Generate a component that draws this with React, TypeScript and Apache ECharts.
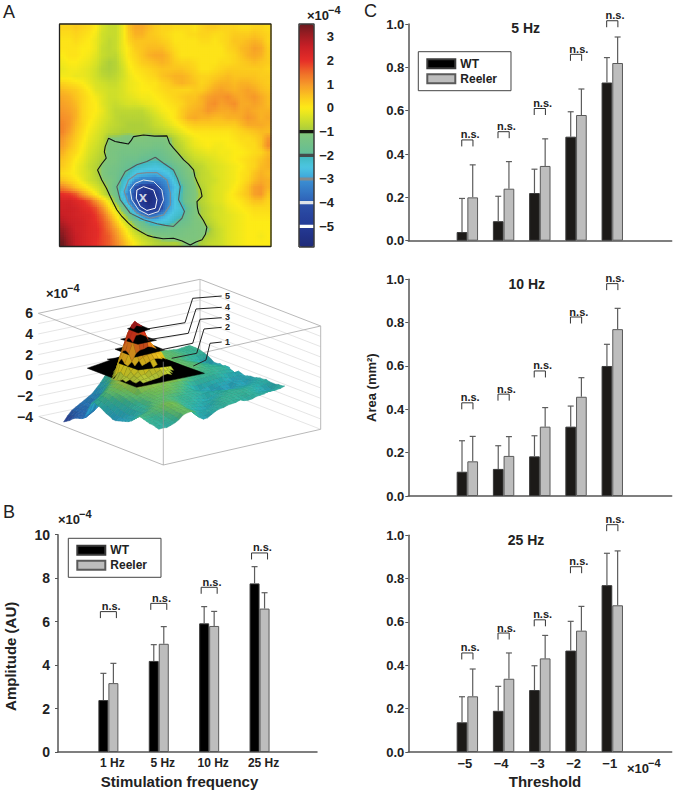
import React, { useEffect, useRef } from "react";
import * as echarts from "echarts";

const FONT = '"Liberation Sans", Arial, sans-serif';

// Panel A: map values (x10^-4), rows top to bottom, columns left to right
const heatRows: number[][] = [
  [.3,.3,.4,.3,.2,.0,-.4,-.6,-.6,-.2,.5,.8,.8,.6,.4,.3,.3,.2,.2,.2,.1,.3,.4,.4,.3,.3,.3,.2,.2,.3,.3,.2],
  [.2,.2,.3,.2,.1,-.1,-.5,-.6,-.6,-.2,.4,.7,.7,.5,.4,.3,.2,.1,.1,.2,.2,.3,.3,.2,.2,.3,.4,.4,.4,.5,.4,.3],
  [.1,.1,.2,.1,.0,-.2,-.5,-.7,-.6,-.2,.3,.5,.5,.5,.5,.4,.3,.1,.1,.1,.1,.2,.2,.1,.2,.3,.5,.5,.6,.7,.6,.3],
  [.1,.1,.1,.0,.0,-.2,-.6,-.7,-.6,-.2,.1,.4,.5,.6,.6,.6,.4,.2,.1,.1,.1,.1,.1,.1,.1,.3,.4,.6,.7,.9,.8,.4],
  [.0,.1,.1,.0,-.1,-.3,-.6,-.7,-.7,-.3,.1,.3,.5,.7,.8,.8,.6,.3,.1,.1,.1,.1,.1,.1,.1,.2,.3,.5,.7,.8,.7,.4],
  [-.1,.0,.0,-.1,-.2,-.4,-.7,-.9,-.8,-.4,.0,.2,.4,.5,.6,.7,.6,.4,.3,.3,.2,.1,.1,.1,.2,.2,.3,.4,.5,.6,.5,.4],
  [-.2,-.1,-.1,-.2,-.3,-.5,-.8,-.9,-.8,-.5,-.1,.1,.2,.3,.4,.5,.5,.5,.5,.4,.3,.1,.1,.2,.3,.4,.4,.4,.4,.4,.4,.3],
  [-.1,-.1,-.2,-.2,-.3,-.5,-.7,-.8,-.7,-.5,-.2,.0,.1,.2,.3,.5,.6,.7,.7,.6,.4,.3,.3,.4,.5,.6,.5,.5,.5,.5,.4,.4],
  [.3,.2,.1,.0,-.2,-.4,-.5,-.6,-.6,-.4,-.2,-.1,.0,.1,.1,.3,.4,.6,.7,.6,.5,.3,.4,.6,.7,.7,.6,.7,.7,.6,.5,.4],
  [.6,.5,.4,.2,.0,-.3,-.4,-.5,-.5,-.4,-.2,-.1,.0,.0,.1,.2,.3,.3,.3,.3,.4,.4,.6,.8,.9,.8,.7,.8,.9,.8,.6,.5],
  [.8,.7,.5,.3,.1,-.1,-.3,-.5,-.5,-.4,-.3,-.2,-.1,-.1,.0,.1,.2,.3,.4,.5,.5,.7,.9,1.0,1.0,1.1,.9,.8,.9,1.0,.8,.6],
  [.9,.8,.6,.3,.1,.0,-.3,-.5,-.6,-.5,-.4,-.4,-.3,-.2,-.1,.0,.1,.2,.3,.5,.6,.7,1.0,1.1,.9,1.0,1.1,.8,.8,.9,.8,.6],
  [1.0,.9,.7,.3,.1,.0,-.2,-.5,-.7,-.7,-.7,-.7,-.7,-.5,-.3,-.1,.0,.1,.4,.6,.7,.8,1.0,.9,.8,.8,.9,.8,.9,.8,.7,.7],
  [1.1,1.0,.7,.3,.1,-.1,-.3,-.5,-.7,-.8,-.8,-.8,-.8,-.7,-.5,-.3,-.1,.1,.4,.7,.8,.7,.7,.6,.6,.7,.7,.8,1.0,.9,.7,.8],
  [1.2,1.0,.6,.3,.0,-.2,-.4,-.6,-.7,-.8,-.9,-.9,-.9,-.8,-.6,-.5,-.3,-.1,.1,.3,.4,.4,.4,.4,.4,.4,.4,.6,.8,.8,.8,.7],
  [1.2,.9,.5,.2,-.1,-.3,-.5,-.7,-.8,-.9,-.9,-.9,-.9,-.9,-.8,-.7,-.6,-.4,-.2,.0,.1,.1,.1,.1,.1,.1,.2,.3,.4,.5,.6,.6],
  [1.0,.7,.4,.1,-.2,-.4,-.6,-1.1,-1.1,-1.1,-1.2,-1.1,-1.1,-1.2,-1.2,-1.2,-1.1,-.8,-.5,-.3,-.1,.0,.0,.0,.0,.0,.1,.2,.2,.3,.5,1.0],
  [.9,.6,.3,.0,-.3,-.5,-.7,-1.2,-1.2,-1.3,-1.3,-1.3,-1.3,-1.3,-1.4,-1.4,-1.2,-.9,-.7,-.4,-.2,-.1,.0,-.1,-.1,.0,.0,.1,.2,.2,.5,1.1],
  [.7,.4,.2,-.1,-.4,-.6,-.8,-1.2,-1.3,-1.4,-1.4,-1.4,-1.5,-1.6,-1.7,-1.6,-1.4,-1.1,-.8,-.6,-.4,-.3,-.2,-.2,-.1,-.1,.0,.0,.1,.2,.3,.6],
  [.5,.3,.0,-.2,-.5,-.7,-.9,-1.2,-1.3,-1.5,-1.6,-1.6,-1.8,-1.9,-2.0,-1.8,-1.6,-1.3,-1.1,-.8,-.6,-.5,-.4,-.3,-.2,-.1,.0,.1,.2,.3,.5,.7],
  [.4,.2,-.1,-.3,-.6,-.8,-1.1,-1.3,-1.4,-1.6,-1.8,-2.1,-2.2,-2.3,-2.4,-2.3,-2.1,-1.7,-1.4,-1.1,-.8,-.7,-.5,-.4,-.3,-.2,-.1,.0,.2,.3,.6,.7],
  [.2,.1,-.1,-.3,-.5,-.8,-1.1,-1.4,-1.5,-1.8,-2.1,-2.5,-2.7,-2.8,-2.8,-2.7,-2.5,-2.0,-1.6,-1.2,-1.0,-.7,-.6,-.4,-.3,-.2,-.1,.1,.2,.5,.7,.6],
  [.5,.3,.1,-.2,-.5,-.7,-1.0,-1.2,-1.5,-2.1,-2.4,-3.1,-3.3,-3.3,-3.4,-3.2,-2.9,-2.3,-1.8,-1.4,-1.0,-.7,-.6,-.5,-.3,-.2,-.1,.1,.3,.6,.8,.7],
  [1.2,.9,.5,.2,-.1,-.4,-.7,-1.1,-1.7,-2.2,-3.1,-4.1,-4.9,-5.3,-4.6,-3.7,-3.1,-2.6,-2.1,-1.5,-1.1,-.8,-.6,-.4,-.3,-.2,.0,.2,.5,.9,1.0,.7],
  [2.0,1.9,1.6,1.0,.5,.0,-.5,-1.0,-1.5,-2.6,-3.3,-4.4,-5.2,-5.6,-5.2,-4.1,-3.1,-2.4,-2.0,-1.5,-1.1,-.9,-.6,-.4,-.3,-.1,.1,.3,.5,.9,1.0,.5],
  [2.4,2.4,2.2,2.0,1.7,1.1,.5,-.2,-1.1,-2.1,-3.1,-4.3,-5.2,-5.7,-5.1,-4.1,-3.2,-2.5,-2.0,-1.4,-1.1,-.8,-.6,-.4,-.3,-.1,.0,.1,.3,.5,.5,.3],
  [2.5,2.5,2.4,2.2,2.0,1.7,1.1,.3,-.4,-1.3,-2.3,-3.4,-4.5,-5.2,-5.1,-4.2,-3.0,-2.5,-2.3,-1.8,-1.2,-.9,-.7,-.5,-.4,-.2,-.1,.0,.1,.2,.2,.2],
  [2.6,2.5,2.4,2.3,2.2,1.9,1.5,.8,.1,-.6,-1.4,-2.3,-3.3,-3.9,-3.6,-3.0,-2.6,-2.3,-2.1,-1.6,-1.2,-.9,-.7,-.5,-.4,-.3,-.2,-.1,.0,.1,.1,.1],
  [2.8,2.6,2.5,2.4,2.2,2.0,1.7,1.2,.5,-.2,-.8,-1.3,-1.8,-2.2,-2.4,-2.4,-2.3,-2.0,-1.7,-1.5,-1.2,-1.1,-.8,-.6,-.4,-.3,-.2,-.1,.0,.0,.0,.0],
  [3.1,2.8,2.5,2.4,2.2,2.1,1.8,1.4,.9,.3,-.3,-.8,-1.2,-1.5,-1.7,-1.7,-1.6,-1.5,-1.4,-1.3,-1.2,-1.1,-1.1,-.7,-.5,-.3,-.2,-.1,.0,.0,.0,.0],
  [3.3,2.9,2.6,2.4,2.2,2.1,1.8,1.6,1.1,.6,.0,-.4,-.7,-.9,-1.1,-1.2,-1.3,-1.3,-1.3,-1.2,-1.2,-1.1,-.9,-.7,-.5,-.3,-.2,-.1,.0,.0,-.1,.0],
  [3.5,3.0,2.6,2.4,2.2,2.0,1.8,1.6,1.2,.8,.3,-.1,-.4,-.6,-.8,-.9,-.9,-.9,-1.0,-1.1,-1.1,-.9,-.7,-.6,-.5,-.3,-.2,-.1,.0,.0,.0,.0],
];

// Contours of the map, as fractions of its width and height (from bottom left)
const contourMinus1: number[][] = [[.232,.487],[.263,.472],[.285,.468],[.326,.461],[.340,.478],[.350,.494],[.397,.501],[.450,.496],[.508,.497],[.520,.465],[.539,.442],[.560,.420],[.587,.389],[.610,.370],[.634,.344],[.640,.315],[.650,.292],[.668,.255],[.674,.225],[.650,.202],[.652,.175],[.658,.150],[.680,.118],[.697,.087],[.690,.055],[.674,.030],[.645,.020],[.618,.007],[.580,.025],[.539,.037],[.490,.035],[.445,.042],[.415,.050],[.382,.067],[.350,.085],[.326,.105],[.295,.135],[.271,.165],[.255,.195],[.240,.225],[.222,.262],[.200,.299],[.180,.344],[.200,.372],[.221,.397],[.212,.425],[.216,.449]];
const contourMinus2: number[][] = [[.453,.401],[.492,.374],[.539,.344],[.558,.305],[.571,.269],[.563,.210],[.591,.157],[.579,.127],[.539,.090],[.500,.095],[.461,.102],[.397,.120],[.334,.150],[.287,.210],[.271,.269],[.311,.337],[.366,.367],[.413,.382]];
const contourMinus3: number[][] = [[.413,.332],[.461,.332],[.508,.299],[.524,.240],[.524,.187],[.492,.142],[.429,.127],[.366,.150],[.326,.195],[.306,.247],[.326,.299],[.366,.326]];
const contourMinus4: number[][] = [[.397,.299],[.445,.292],[.484,.254],[.492,.210],[.468,.157],[.421,.142],[.374,.165],[.342,.210],[.334,.254],[.358,.284]];
const contourMinus5: number[][] = [[.397,.269],[.445,.254],[.461,.210],[.453,.172],[.413,.162],[.382,.180],[.363,.217],[.366,.254]];
const contours = [contourMinus1, contourMinus2, contourMinus3, contourMinus4, contourMinus5];
const contourColors = ["#111111", "#565656", "#7d8a94", "#dfe6ee", "#ffffff"];
const contourWidths = [1.1, 1.1, 1.2, 1, 1];
const stimSite = [.394, .225];

// Colour bar
const colorbarTicks = [3, 2, 1, 0, -1, -2, -3, -4, -5];
const colorbarBands = [-1, -2, -3, -4, -5];
const bandColors = ["#16160f", "#444c4c", "#858a8c", "#dfe3ea", "#ffffff"];
const colorMin = -5.87;
const colorMax = 3.54;
const mapStops: [number, string][] = [
  [-5.87, "#1f2a78"], [-5, "#243a95"], [-4.05, "#2c50a8"], [-3.95, "#2f62b8"], [-3.05, "#3a8fd2"],
  [-2.95, "#3fa6dc"], [-2.5, "#4cc6e2"], [-2.05, "#40b8c0"], [-1.95, "#64bd96"], [-1.05, "#82c67a"],
  [-.95, "#a9cd3c"], [-.5, "#cfdf2a"], [0, "#fdeb17"], [.5, "#fbc41f"], [1, "#f6982a"], [1.5, "#ef6a28"],
  [2, "#e62e28"], [2.6, "#c81f26"], [3.1, "#9a1c22"], [3.54, "#6a1a1e"],
];

// Panel A, 3D view: heights of the black level slices and their corners (fractions of the surface)
const sliceLevels = [1, 2, 3, 4, 5];
const sliceCorners: number[][][] = [
  [[0, .21], [.49, .22], [.61, .65], [-.01, .62]],
  [[.11, .28], [.40, .30], [.52, .53], [.23, .52]],
  [[.15, .31], [.35, .31], [.39, .51], [.19, .51]],
  [[.18, .33], [.33, .35], [.36, .47], [.21, .46]],
  [[.21, .36], [.32, .36], [.32, .45], [.21, .45]],
];
const surfaceStops: [number, string][] = [
  [-4, "#2a2f90"], [-3, "#2f50b0"], [-2, "#2a80c8"], [-1.1, "#2aa6cc"], [-.5, "#2cb8b8"], [0, "#3cc09c"],
  [.5, "#78cc5c"], [1, "#c0d840"], [1.8, "#f6e020"], [2.8, "#f8b420"], [3.5, "#f48420"], [4.2, "#ec441e"],
  [5, "#cc2020"], [5.6, "#80161a"],
];
const zTicks = [-4, -3, -2, -1, 0, 1, 2, 3, 4, 5, 6];
const sliceLabels = ["1", "2", "3", "4", "5"];

// Panel B
const stimLabels = ["1 Hz", "5 Hz", "10 Hz", "25 Hz"];
const stimX = [1, 2, 3, 4];
const ampWT = [2.39, 4.19, 5.92, 7.76];
const ampReeler = [3.17, 4.98, 5.8, 6.6];
const ampWTErr = [3.62, 4.94, 6.69, 8.53];
const ampReelerErr = [4.08, 5.77, 6.47, 7.33];
const ampBrackets = [6.46, 6.84, 7.58, 9.16];

// Panel C
const thresholds = [-5, -4, -3, -2, -1];
const area5WT = [.04, .09, .22, .48, .73];
const area5Reeler = [.2, .24, .345, .58, .82];
const area5WTErr = [.195, .205, .33, .595, .845];
const area5ReelerErr = [.35, .365, .47, .7, .94];
const area5Brackets = [.465, .503, .61, .86, 1.015];
const area10WT = [.112, .125, .183, .32, .6];
const area10Reeler = [.16, .185, .32, .458, .77];
const area10WTErr = [.255, .232, .278, .415, .7];
const area10ReelerErr = [.275, .274, .408, .546, .866];
const area10Brackets = [.43, .47, .577, .826, .98];
const area25WT = [.137, .19, .286, .468, .77];
const area25Reeler = [.257, .338, .432, .56, .677];
const area25WTErr = [.255, .303, .398, .603, .917];
const area25ReelerErr = [.383, .457, .538, .672, .928];
const area25Brackets = [.457, .549, .61, .855, 1.049];

// ---- layout of the 3D projection, in page pixels
const ORIGIN = [60, 429];
const S_VEC = [98.3, 40];
const T_VEC = [130, -43.7];
const Z_PX = 10.33;
const Z_SCALE = 0.95;
const project = (s: number, t: number, z: number) => [
  ORIGIN[0] + s * S_VEC[0] + t * T_VEC[0],
  ORIGIN[1] + s * S_VEC[1] + t * T_VEC[1] - (z + 4) * Z_PX,
];
const LT = [38.3, 313.3], BT = [200, 279.3], RT = [320.7, 326], FT = [163.3, 361.7];
const LB = [39.3, 416.7], FB = [163.3, 465], RB = [320.7, 429.3];
const MAP_SUBCELLS = 3;

const hexRgb = (h: string) => [parseInt(h.slice(1, 3), 16), parseInt(h.slice(3, 5), 16), parseInt(h.slice(5, 7), 16)];
const rgbCss = (c: number[], f = 1) =>
  `rgb(${Math.round(Math.min(255, c[0] * f))},${Math.round(Math.min(255, c[1] * f))},${Math.round(Math.min(255, c[2] * f))})`;

function rampRgb(stops: [number, string][], v: number): number[] {
  if (v <= stops[0][0]) return hexRgb(stops[0][1]);
  for (let i = 1; i < stops.length; i++) {
    if (v <= stops[i][0]) {
      const k = (v - stops[i - 1][0]) / (stops[i][0] - stops[i - 1][0]);
      const a = hexRgb(stops[i - 1][1]), b = hexRgb(stops[i][1]);
      return [a[0] + (b[0] - a[0]) * k, a[1] + (b[1] - a[1]) * k, a[2] + (b[2] - a[2]) * k];
    }
  }
  return hexRgb(stops[stops.length - 1][1]);
}
const rampColor = (stops: [number, string][], v: number) => rgbCss(rampRgb(stops, v));

const minusText = (v: number | string) => {
  const n = Number(v);
  return n < 0 ? "\u2212" + Math.abs(n) : String(v);
};

function closed(points: number[][]) {
  return [...points, points[0]];
}

function buildOption() {
  const nR = heatRows.length;
  const nC = heatRows[0].length;
  const heatData: number[][] = [];
  heatRows.forEach((row, r) => row.forEach((v, c) => heatData.push([c, r, v])));

  const mapColors: string[] = [];
  for (let i = 0; i <= 94; i++) mapColors.push(rampColor(mapStops, colorMin + ((colorMax - colorMin) * i) / 94));

  // Smooth shading of the map cells (rendering only: the values stay those of heatRows)
  const shadeAt = (fr: number, fc: number) => {
    const r0 = Math.max(0, Math.min(nR - 1, Math.floor(fr)));
    const c0 = Math.max(0, Math.min(nC - 1, Math.floor(fc)));
    const r1 = Math.min(nR - 1, r0 + 1), c1 = Math.min(nC - 1, c0 + 1);
    const a = Math.max(0, Math.min(1, fr - r0)), b = Math.max(0, Math.min(1, fc - c0));
    return (
      (heatRows[r0][c0] * (1 - b) + heatRows[r0][c1] * b) * (1 - a) +
      (heatRows[r1][c0] * (1 - b) + heatRows[r1][c1] * b) * a
    );
  };
  const subR = nR * MAP_SUBCELLS, subC = nC * MAP_SUBCELLS;
  const subCells: number[][] = [];
  for (let j = 0; j < subR; j++) for (let i = 0; i < subC; i++) subCells.push([i, j]);
  const renderMapShade = (params: any, api: any) => {
    const [i, j] = subCells[params.dataIndex];
    const p = api.coord([i / subC, 1 - j / subR]);
    const q = api.coord([(i + 1) / subC, 1 - (j + 1) / subR]);
    const v = shadeAt((j + 0.5) / MAP_SUBCELLS - 0.5, (i + 0.5) / MAP_SUBCELLS - 0.5);
    return {
      type: "rect",
      shape: { x: p[0], y: p[1], width: q[0] - p[0] + 0.4, height: q[1] - p[1] + 0.4 },
      style: { fill: rampColor(mapStops, v) },
    };
  };

  // 3D surface: painter's order by level band and depth
  const heightAt = (r: number, c: number) => {
    const h = -heatRows[r][c] * Z_SCALE;
    if (h <= 0.3 || h >= 2) return h;
    return 0.3 + 1.7 * Math.pow((h - 0.3) / 1.7, 1.6);
  };
  const sOf = (r: number) => 1 - (r + 0.5) / nR;
  const tOf = (c: number) => (c + 0.5) / nC;
  const bands: number[][][] = [[], [], [], [], [], []];
  for (let r = 0; r < nR - 1; r++) {
    for (let c = 0; c < nC - 1; c++) {
      const mean = (heightAt(r, c) + heightAt(r + 1, c) + heightAt(r, c + 1) + heightAt(r + 1, c + 1)) / 4;
      const b = Math.max(0, Math.min(5, Math.floor(mean)));
      bands[b].push([0, r, c]);
    }
  }
  const depth = (e: number[]) => project(sOf(e[1] + 0.5), tOf(e[2] + 0.5), -4)[1];
  const drawOrder: number[][] = [];
  bands.forEach((list, b) => {
    if (b > 0) drawOrder.push([1, b - 1, 0]);
    list.sort((a, d) => depth(a) - depth(d));
    drawOrder.push(...list);
  });

  const renderSurface = (params: any, api: any) => {
    const e = drawOrder[params.dataIndex];
    if (e[0] === 1) {
      const lv = sliceLevels[e[1]];
      const pts = sliceCorners[e[1]].map((p) => api.coord(project(p[0], p[1], lv)));
      return { type: "polygon", shape: { points: pts }, style: { fill: "#000", stroke: "#000", lineWidth: 0.5 } };
    }
    const r = e[1], c = e[2];
    const z = [heightAt(r, c), heightAt(r, c + 1), heightAt(r + 1, c + 1), heightAt(r + 1, c)];
    const ss = [sOf(r), sOf(r), sOf(r + 1), sOf(r + 1)];
    const tt = [tOf(c), tOf(c + 1), tOf(c + 1), tOf(c)];
    const pts = z.map((h, i) => api.coord(project(ss[i], tt[i], h)));
    const mean = (z[0] + z[1] + z[2] + z[3]) / 4;
    const slope = (z[1] + z[2] - z[0] - z[3]) * 0.2 + (z[2] + z[3] - z[0] - z[1]) * 0.08;
    const factor = 0.95 - Math.max(-0.05, Math.min(0.12, slope));
    const base = rampRgb(surfaceStops, mean);
    return {
      type: "polygon", shape: { points: pts },
      style: { fill: rgbCss(base, factor), stroke: rgbCss(base, factor * 0.88), lineWidth: 0.5 },
    };
  };

  const lineEl = (api: any, a: number[], b: number[], stroke: string, lineWidth = 1) => {
    const p = api.coord(a), q = api.coord(b);
    return { type: "line", shape: { x1: p[0], y1: p[1], x2: q[0], y2: q[1] }, style: { stroke, lineWidth } };
  };

  const renderBackBox = (_: any, api: any) => {
    const kids: any[] = [];
    zTicks.forEach((z) => {
      const dy = (6 - z) * Z_PX;
      if (z !== 6) {
        kids.push(lineEl(api, [LT[0], LT[1] + dy], [BT[0], BT[1] + dy], "#dedede", 0.8));
        kids.push(lineEl(api, [BT[0], BT[1] + dy], [RT[0], RT[1] + dy], "#dedede", 0.8));
      }
    });
    kids.push(lineEl(api, LT, BT, "#b9b9b9"));
    kids.push(lineEl(api, BT, RT, "#b9b9b9"));
    kids.push(lineEl(api, RT, FT, "#b9b9b9"));
    kids.push(lineEl(api, LT, FT, "#b9b9b9"));
    kids.push(lineEl(api, BT, [BT[0], BT[1] + 103], "#c4c4c4"));
    kids.push(lineEl(api, RT, RB, "#b9b9b9"));
    kids.push(lineEl(api, LB, FB, "#b9b9b9"));
    kids.push(lineEl(api, FB, RB, "#b9b9b9"));
    return { type: "group", children: kids };
  };
  const renderFrontEdge = (_: any, api: any) => lineEl(api, FT, FB, "rgba(150,150,150,0.75)", 0.9);

  const barGrids = [
    { left: 58, top: 534.7, width: 259, height: 217.3 },
    { left: 408.3, top: 24, width: 263.4, height: 216.7 },
    { left: 408.3, top: 279.3, width: 263.4, height: 216.7 },
    { left: 408.3, top: 535.3, width: 263.4, height: 216.7 },
  ];
  const G_HEAT = 0, G_HEAT_OVER = 1, G_BAR = 2, G_SCENE = 3, G_Z = 4, G_B = 5, G_C5 = 6, G_C10 = 7, G_C25 = 8;

  const grid = [
    { left: 59.5, top: 24, width: 211.5, height: 222.5 },
    { left: 59.5, top: 24, width: 211.5, height: 222.5 },
    { left: 299, top: 24, width: 15, height: 223 },
    { left: 0, top: 0, width: 674, height: 792 },
    { left: 37, top: 313.3, width: 1, height: 103.4 },
    ...barGrids,
  ];

  const hiddenValue = (gridIndex: number, min: number, max: number, inverse = false) => ({
    type: "value", gridIndex, min, max, inverse, show: false, splitLine: { show: false },
  });

  const axisLine = { show: true, onZero: false, lineStyle: { color: "#555", width: 1.5 } };

  const stimAxis = {
    type: "value", gridIndex: G_B, min: 0.0, max: 5.14, splitLine: { show: false }, axisLine,
    axisTick: { show: false },
    axisLabel: {
      customValues: stimX, formatter: (v: number) => stimLabels[v - 1] ?? "", fontSize: 12, fontWeight: "bold",
      color: "#222", margin: 5, padding: [0, 0, 0, 8], showMinLabel: true, showMaxLabel: true,
    },
    name: "Stimulation frequency", nameLocation: "middle", nameGap: 22,
    nameTextStyle: { fontSize: 15, fontWeight: "bold", color: "#222", padding: [0, 16, 0, 0] },
  };
  const thresholdAxis = (g: number, labelled: boolean) => ({
    type: "value", gridIndex: g, min: -6.63, max: 0.64, splitLine: { show: false }, axisLine,
    axisTick: { show: false },
    axisLabel: labelled
      ? { customValues: thresholds, formatter: minusText, fontSize: 13, fontWeight: "bold", color: "#222", margin: 5, padding: [0, 5, 0, 0] }
      : { show: false },
    ...(labelled
      ? {
          name: "Threshold", nameLocation: "middle", nameGap: 22,
          nameTextStyle: { fontSize: 15, fontWeight: "bold", color: "#222", padding: [0, 0, 0, 10] },
        }
      : {}),
  });
  const amountAxis = (g: number, max: number, interval: number, fmt: (v: number) => string, fontSize: number, margin: number, extra: any = {}) => ({
    type: "value", gridIndex: g, min: 0, max, interval, splitLine: { show: false },
    axisLine: { show: true, onZero: false, lineStyle: { color: "#555", width: 1.5 } },
    axisTick: { show: true, length: 3, lineStyle: { color: "#555", width: 1 } },
    axisLabel: { formatter: fmt, fontSize, fontWeight: "bold", color: "#222", margin },
    ...extra,
  });

  const panel = (
    g: number, xs: number[], wt: number[], reeler: number[], wtErr: number[], reelerErr: number[],
    brackets: number[], barW: number, halfBracket: number, wtFill: string,
  ) => {
    const errorSeries = (err: number[], vals: number[], off: number) => ({
      type: "custom", xAxisIndex: g, yAxisIndex: g, z: 3, silent: true,
      data: xs.map((x, i) => [x, err[i], vals[i]]),
      renderItem: (_: any, api: any) => {
        const top = api.coord([api.value(0), api.value(1)]);
        const bot = api.coord([api.value(0), api.value(2)]);
        const x = top[0] + off;
        const style = { stroke: "#5d5d5d", lineWidth: 1.2 };
        return {
          type: "group",
          children: [
            { type: "line", shape: { x1: x, y1: bot[1], x2: x, y2: top[1] }, style },
            { type: "line", shape: { x1: x - 3, y1: top[1], x2: x + 3, y2: top[1] }, style },
          ],
        };
      },
    });
    return [
      {
        type: "bar", name: "WT", xAxisIndex: g, yAxisIndex: g, barWidth: barW, barGap: "0%", z: 2,
        data: xs.map((x, i) => [x, wt[i]]),
        itemStyle: { color: wtFill, borderColor: "#3a3a3a", borderWidth: 1 },
      },
      {
        type: "bar", name: "Reeler", xAxisIndex: g, yAxisIndex: g, barWidth: barW, barGap: "0%", z: 2,
        data: xs.map((x, i) => [x, reeler[i]]),
        itemStyle: { color: "#bdbdbd", borderColor: "#5a5a5a", borderWidth: 1 },
      },
      errorSeries(wtErr, wt, -barW / 2),
      errorSeries(reelerErr, reeler, barW / 2),
      {
        type: "custom", xAxisIndex: g, yAxisIndex: g, z: 3, silent: true,
        data: xs.map((x, i) => [x, brackets[i]]),
        renderItem: (_: any, api: any) => {
          const p = api.coord([api.value(0), api.value(1)]);
          const x = p[0], y = p[1];
          return {
            type: "group",
            children: [
              {
                type: "polyline",
                shape: { points: [[x - halfBracket, y + 6.5], [x - halfBracket, y], [x + halfBracket, y], [x + halfBracket, y + 6.5]] },
                style: { stroke: "#333", lineWidth: 1, fill: "none" },
              },
              {
                type: "text",
                style: {
                  text: "n.s.", x: x + 2.8, y: y - 5.5, align: "center", verticalAlign: "middle",
                  fill: "#222", font: `bold 11px ${FONT}`,
                },
              },
            ],
          };
        },
      },
    ];
  };

  const legend = (left: number, top: number) => ({
    show: true, data: ["WT", "Reeler"], orient: "vertical", left, top, icon: "rect",
    itemWidth: 28, itemHeight: 9, itemGap: 3, selectedMode: false,
    padding: [6, 14, 6, 8], borderColor: "#444", borderWidth: 1,
    textStyle: { fontSize: 12, fontWeight: "bold", color: "#222", fontFamily: FONT },
  });

  const textEl = (text: string, x: number, y: number, font: string, align = "left") => ({
    type: "text", x, y, z: 30, silent: true,
    style: { text, font, fill: "#222", align, verticalAlign: "middle" },
  });
  const sciEls = (x: number, y: number) => [
    textEl("\u00d710", x, y, `bold 13px ${FONT}`),
    textEl("\u22124", x + 21, y - 5, `bold 11px ${FONT}`),
  ];
  const leaderPaths = [
    [[193.3, 366], [206, 360], [210, 343.3], [221.7, 342]],
    [[171.7, 358.3], [196.7, 353.3], [204, 329], [221.7, 327.3]],
    [[160, 350], [192.7, 343.3], [200, 319.3], [221.7, 317.7]],
    [[146.7, 340], [188.3, 333.3], [196, 309], [221.7, 307.3]],
    [[146.7, 329], [185, 322.7], [192.7, 298.3], [221.7, 296]],
  ];

  const series: any[] = [
    {
      type: "heatmap", xAxisIndex: G_HEAT, yAxisIndex: G_HEAT, data: heatData, z: 2, silent: true,
      itemStyle: { borderWidth: 0 }, progressive: 0,
    },
    {
      type: "custom", xAxisIndex: G_HEAT_OVER, yAxisIndex: G_HEAT_OVER, z: 3, silent: true, progressive: 0,
      data: subCells, renderItem: renderMapShade, clip: true,
    },
    ...contours.map((pts, i) => ({
      type: "line", xAxisIndex: G_HEAT_OVER, yAxisIndex: G_HEAT_OVER, data: closed(pts), symbol: "none", z: 4, silent: true,
      clip: false, lineStyle: { color: contourColors[i], width: contourWidths[i] },
    })),
    {
      type: "line", xAxisIndex: G_HEAT_OVER, yAxisIndex: G_HEAT_OVER, symbol: "none", z: 5, silent: true, clip: false,
      data: [[0, 0], [1, 0], [1, 1], [0, 1], [0, 0]], lineStyle: { color: "#222", width: 1.3 },
    },
    {
      type: "scatter", xAxisIndex: G_HEAT_OVER, yAxisIndex: G_HEAT_OVER, data: [stimSite], symbolSize: 1, z: 6, silent: true,
      itemStyle: { color: "rgba(0,0,0,0)" },
      label: { show: true, position: "inside", formatter: "x", color: "#fff", fontWeight: "bold", fontSize: 15, fontFamily: FONT },
    },
    ...colorbarBands.map((v, i) => ({
      type: "line", xAxisIndex: G_BAR, yAxisIndex: G_BAR, symbol: "none", z: 5, silent: true,
      data: [[0, v], [1, v]], lineStyle: { color: bandColors[i], width: 3.2 },
    })),
    {
      type: "line", xAxisIndex: G_BAR, yAxisIndex: G_BAR, symbol: "none", z: 6, silent: true, clip: false,
      data: [[0, colorMin], [1, colorMin], [1, colorMax], [0, colorMax], [0, colorMin]],
      lineStyle: { color: "#3a3a3a", width: 1.5 },
    },
    { type: "custom", xAxisIndex: G_SCENE, yAxisIndex: G_SCENE, data: [[0, 0]], renderItem: renderBackBox, z: 1, silent: true },
    {
      type: "custom", xAxisIndex: G_SCENE, yAxisIndex: G_SCENE, z: 2, silent: true, progressive: 0,
      data: drawOrder.map((e) => [e[1], e[2]]), renderItem: renderSurface,
    },
    { type: "custom", xAxisIndex: G_SCENE, yAxisIndex: G_SCENE, data: [[0, 0]], renderItem: renderFrontEdge, z: 3, silent: true },
    ...panel(G_B, stimX, ampWT, ampReeler, ampWTErr, ampReelerErr, ampBrackets, 10, 8, "#000"),
    ...panel(G_C5, thresholds, area5WT, area5Reeler, area5WTErr, area5ReelerErr, area5Brackets, 10.7, 5.6, "#1c1a18"),
    ...panel(G_C10, thresholds, area10WT, area10Reeler, area10WTErr, area10ReelerErr, area10Brackets, 10.7, 5.6, "#1c1a18"),
    ...panel(G_C25, thresholds, area25WT, area25Reeler, area25WTErr, area25ReelerErr, area25Brackets, 10.7, 5.6, "#1c1a18"),
  ];

  return {
    animation: false,
    backgroundColor: "#fff",
    textStyle: { fontFamily: FONT },
    title: [
      { text: "5 Hz", left: 525.7, top: 21, textAlign: "center", padding: 0, textStyle: { fontSize: 14, fontWeight: "bold", color: "#222" } },
      { text: "10 Hz", left: 526.7, top: 277, textAlign: "center", padding: 0, textStyle: { fontSize: 14, fontWeight: "bold", color: "#222" } },
      { text: "25 Hz", left: 526, top: 533, textAlign: "center", padding: 0, textStyle: { fontSize: 14, fontWeight: "bold", color: "#222" } },
    ],
    grid,
    xAxis: [
      { type: "category", gridIndex: G_HEAT, show: false, data: heatRows[0].map((_, i) => String(i)) },
      hiddenValue(G_HEAT_OVER, 0, 1),
      hiddenValue(G_BAR, 0, 1),
      hiddenValue(G_SCENE, 0, 674),
      hiddenValue(G_Z, 0, 1),
      stimAxis,
      thresholdAxis(G_C5, false),
      thresholdAxis(G_C10, false),
      thresholdAxis(G_C25, true),
    ],
    yAxis: [
      { type: "category", gridIndex: G_HEAT, show: false, inverse: true, data: heatRows.map((_, i) => String(i)) },
      hiddenValue(G_HEAT_OVER, 0, 1),
      {
        type: "value", gridIndex: G_BAR, position: "right", min: colorMin, max: colorMax, splitLine: { show: false },
        axisLine: { show: false }, axisTick: { show: false },
        axisLabel: { customValues: colorbarTicks, formatter: minusText, align: "right", margin: 20, fontSize: 13, fontWeight: "bold", color: "#222" },
      },
      hiddenValue(G_SCENE, 0, 792, true),
      {
        type: "value", gridIndex: G_Z, min: -4, max: 6, interval: 2, splitLine: { show: false },
        axisLine: { show: false }, axisTick: { show: false },
        axisLabel: { formatter: minusText, margin: 4, fontSize: 14, fontWeight: "bold", color: "#222" },
      },
      amountAxis(G_B, 10, 2, (v) => String(v), 14, 8, {
        name: "Amplitude (AU)", nameLocation: "middle", nameGap: 40,
        nameTextStyle: { fontSize: 15, fontWeight: "bold", color: "#222", padding: [0, 26, 0, 0] },
      }),
      amountAxis(G_C5, 1, 0.2, (v) => v.toFixed(1), 13, 4),
      amountAxis(G_C10, 1, 0.2, (v) => v.toFixed(1), 13, 4, {
        name: "Area (mm\u00b2)", nameLocation: "middle", nameGap: 30,
        nameTextStyle: { fontSize: 13, fontWeight: "bold", color: "#222" },
      }),
      amountAxis(G_C25, 1, 0.2, (v) => v.toFixed(1), 13, 4),
    ],
    visualMap: [
      {
        type: "continuous", min: colorMin, max: colorMax, seriesIndex: 0, calculable: false, hoverLink: false,
        left: 299, top: 24, itemWidth: 15, itemHeight: 223, padding: 0, z: 1, inRange: { color: mapColors },
      },
    ],
    legend: [legend(68.3, 538.3), legend(418.3, 51.7)],
    graphic: {
      elements: [
        textEl("A", 3, 12, `18px ${FONT}`),
        textEl("B", 3, 512, `18px ${FONT}`),
        textEl("C", 364, 11, `18px ${FONT}`),
        ...sciEls(307, 15),
        ...sciEls(46, 293),
        ...sciEls(58, 519),
        ...sciEls(627, 768),
        ...leaderPaths.flatMap((points, i) => [
          { type: "polyline", z: 25, silent: true, shape: { points }, style: { stroke: "#222", lineWidth: 1, fill: "none" } },
          textEl(sliceLabels[i], 225, points[3][1] - 0.5, `bold 9px ${FONT}`),
        ]),
      ],
    },
    series,
  };
}

export default function App() {
  const ref = useRef<HTMLDivElement>(null);
  useEffect(() => {
    const chart = echarts.init(ref.current!, undefined, { renderer: "svg", width: 674, height: 792 });
    chart.setOption(buildOption() as any);
    return () => chart.dispose();
  }, []);
  return <div ref={ref} style={{ position: "absolute", left: 0, top: 0, width: 674, height: 792 }} />;
}
